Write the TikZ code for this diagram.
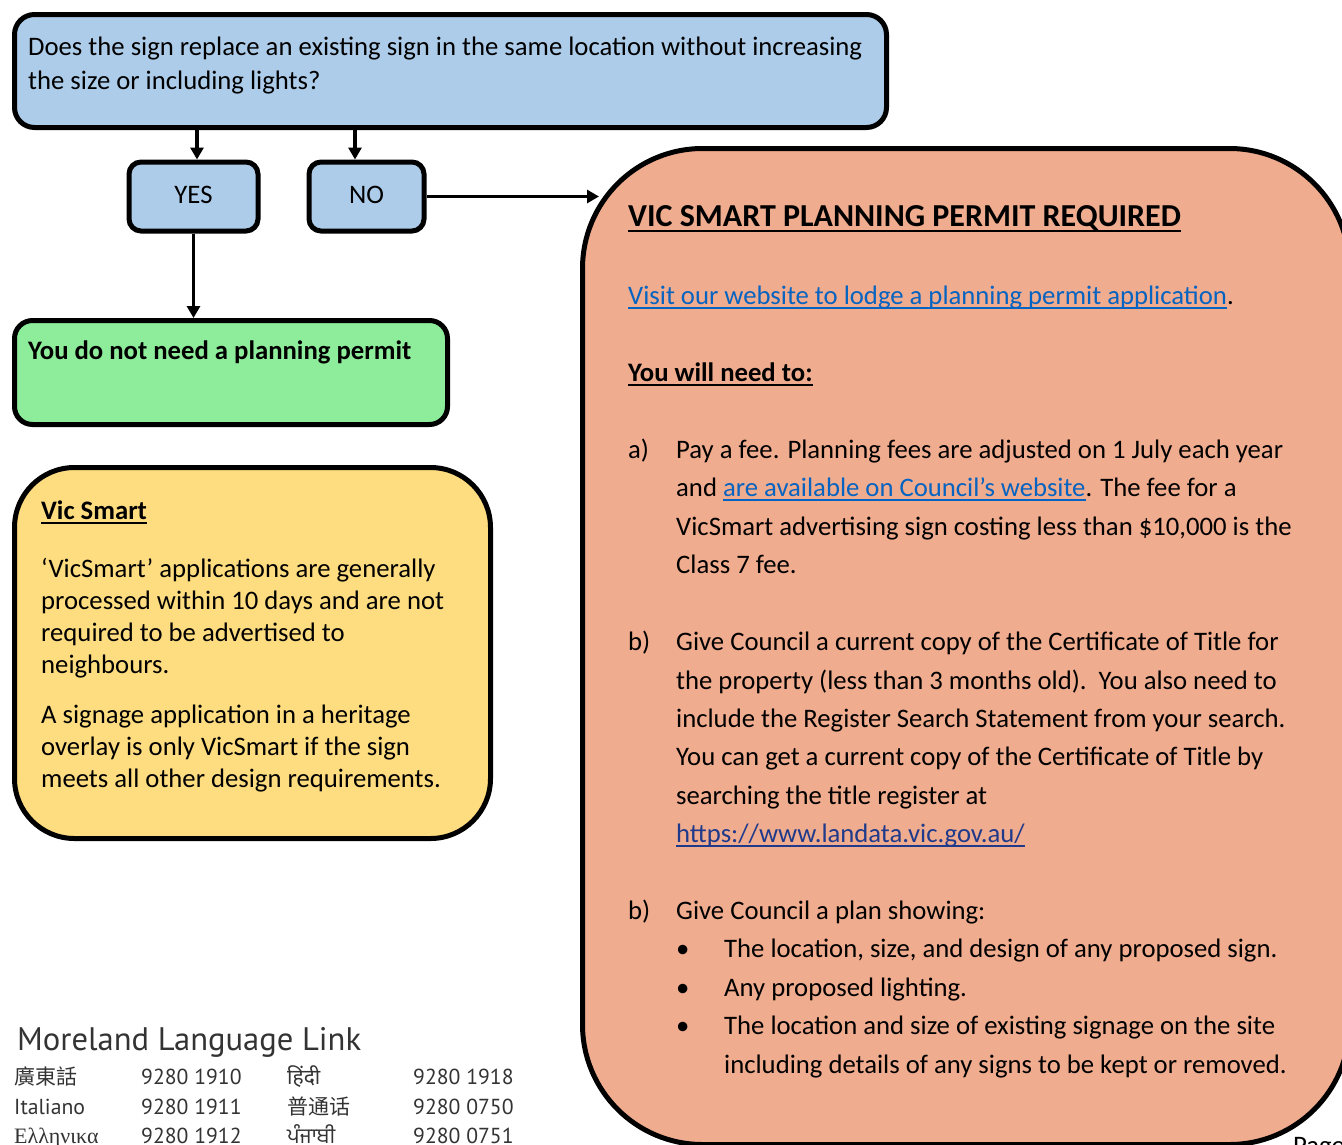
\documentclass[tikz,border=0pt]{standalone}
\usepackage{fontspec}
\setmainfont{Carlito}
\newfontfamily\llfont{PT Sans}
\newfontfamily\tcfont{Noto Sans CJK TC}
\newfontfamily\scfont{Noto Sans CJK SC}
\newfontfamily\hifont[Script=Devanagari]{Noto Sans}
\newfontfamily\pafont[Script=Gurmukhi]{Hind Jalandhar}
\newfontfamily\grfont{Liberation Serif}
\usetikzlibrary{arrows.meta}
\definecolor{qblue}{HTML}{ADCCEA}
\definecolor{okgreen}{HTML}{8DED9A}
\definecolor{infoyellow}{HTML}{FEDC80}
\definecolor{permitorange}{HTML}{F0AC8E}
\definecolor{linkblue}{HTML}{0563C1}
\definecolor{urlnavy}{HTML}{1F3A8A}
\definecolor{llgray}{HTML}{333333}
\newcommand\ulin[2][5pt]{\setbox0=\hbox{#2}\rlap{\rule[-#1]{\wd0}{2pt}}\box0}
\tikzset{
  boxbase/.style={draw=black, line width=5pt, anchor=north west, inner sep=0pt},
  qbox/.style={boxbase, fill=qblue, rounded corners=20pt},
  ansbox/.style={boxbase, fill=qblue, rounded corners=12pt, anchor=center},
  txt/.style={anchor=base west, inner sep=0pt, font=\fontsize{26.7}{30}\selectfont},
  btxt/.style={txt, font=\bfseries\fontsize{26.7}{30}\selectfont},
  lltxt/.style={anchor=base west, inner sep=0pt, text=llgray, font=\llfont\fontsize{21.7}{26}\selectfont},
  arr/.style={line width=3.5pt, -{Triangle[length=12pt,width=13pt]}},
}
\begin{document}
\begin{tikzpicture}[x=1pt,y=-1pt]
\useasboundingbox (0,0) rectangle (1342,1144);
\clip (0,0) rectangle (1342,1144);

% boxes
\node[qbox, minimum width=872pt, minimum height=113pt] (q) at (12,12) {};
\node[ansbox, minimum width=129pt, minimum height=69pt] (yes) at (193.5,196.5) {};
\node[ansbox, minimum width=115pt, minimum height=69pt] (no) at (366.5,196.5) {};
\node[boxbase, fill=okgreen, rounded corners=18pt, minimum width=433pt, minimum height=104pt] (ok) at (12,318) {};
\node[boxbase, fill=infoyellow, rounded corners=60pt, minimum width=476pt, minimum height=371pt] (vs) at (12,465) {};
\node[boxbase, fill=permitorange, rounded corners=120pt, minimum width=767pt, minimum height=996pt] (pr) at (580,146) {};

% labels in answer boxes
\node[font=\fontsize{26.7}{30}\selectfont, inner sep=0pt, anchor=base] (yest) at (193.5,203) {YES};
\node[font=\fontsize{26.7}{30}\selectfont, inner sep=0pt, anchor=base] (not) at (366.5,203) {NO};

% connectors
\coordinate (cy) at (197,0);
\coordinate (cn) at (355,0);
\coordinate (ce) at (599,0);
\draw[arr] (q.south -| cy) -- (yes.north -| cy);
\draw[arr] (q.south -| cn) -- (no.north -| cn);
\draw[arr] (yes.south) -- (yes.south |- ok.north);
\draw[arr] (no.east) -- (no.east -| ce);

% question text
\node[txt] (q1) at (28,55) {Does the sign replace an existing sign in the same location without increasing};
\node[txt] (q2) at (28,89) {the size or including lights?};

% green
\node[btxt] (okt) at (28,359) {You do not need a planning permit};

% yellow
\node[btxt] (vst) at (41,519) {\ulin[4.5pt]{Vic Smart}};
\node[txt] (vs1) at (41,577) {‘VicSmart’ applications are generally};
\node[txt] (vs2) at (41,609) {processed within 10 days and are not};
\node[txt] (vs3) at (41,641) {required to be advertised to};
\node[txt] (vs4) at (41,673) {neighbours.};
\node[txt] (vs5) at (41,723) {A signage application in a heritage};
\node[txt] (vs6) at (41,755) {overlay is only VicSmart if the sign};
\node[txt] (vs7) at (41,787) {meets all other design requirements.};

% orange
\node[txt, font=\bfseries\fontsize{32}{36}\selectfont] (prt) at (628,226) {\ulin[5.5pt]{VIC SMART PLANNING PERMIT REQUIRED}};
\node[txt] (web) at (628,304) {\textcolor{linkblue}{\ulin{Visit our website to lodge a planning permit application}}.};
\node[btxt] (need) at (628,381) {\ulin{You will need to:}};

\node[txt] (la) at (628,458) {a)};
\node[txt] (a1) at (676,458) {Pay a fee. Planning fees are adjusted on 1 July each year};
\node[txt] (a2) at (676,496) {and \textcolor{linkblue}{\ulin{are available on Council’s website}}. The fee for a};
\node[txt] (a3) at (676,535) {VicSmart advertising sign costing less than \$10,000 is the};
\node[txt] (a4) at (676,573) {Class 7 fee.};

\node[txt] (lb) at (628,650) {b)};
\node[txt] (b1) at (676,650) {Give Council a current copy of the Certificate of Title for};
\node[txt] (b2) at (676,689) {the property (less than 3 months old).\ \ You also need to};
\node[txt] (b3) at (676,727) {include the Register Search Statement from your search.};
\node[txt] (b4) at (676,765) {You can get a current copy of the Certificate of Title by};
\node[txt] (b5) at (676,804) {searching the title register at};
\node[txt] (b6) at (676,842) {\textcolor{urlnavy}{\ulin{https://www.landata.vic.gov.au/}}};

\node[txt] (lc) at (628,919) {b)};
\node[txt] (c1) at (676,919) {Give Council a plan showing:};
\node[txt] (d1) at (676,957) {\textbullet};
\node[txt] (c2) at (724,957) {The location, size, and design of any proposed sign.};
\node[txt] (d2) at (676,996) {\textbullet};
\node[txt] (c3) at (724,996) {Any proposed lighting.};
\node[txt] (d3) at (676,1034) {\textbullet};
\node[txt] (c4) at (724,1034) {The location and size of existing signage on the site};
\node[txt] (c5) at (724,1073) {including details of any signs to be kept or removed.};

\node[txt] (page) at (1293,1154) {Page};

% language link
\node[anchor=base west, inner sep=0pt, text=llgray, font=\llfont\fontsize{32.6}{36}\selectfont] (ll) at (17,1050) {Moreland Language Link};
\node[lltxt, font=\tcfont\fontsize{21}{26}\selectfont] (l1) at (14,1084) {廣東話};
\node[lltxt] (n1) at (141,1084) {9280 1910};
\node[lltxt, font=\hifont\fontsize{21}{26}\selectfont] (l2) at (287,1084) {हिंदी};
\node[lltxt] (n2) at (413,1084) {9280 1918};
\node[lltxt] (l3) at (14,1114) {Italiano};
\node[lltxt] (n3) at (141,1114) {9280 1911};
\node[lltxt, font=\scfont\fontsize{21}{26}\selectfont] (l4) at (287,1114) {普通话};
\node[lltxt] (n4) at (413,1114) {9280 0750};
\node[lltxt, font=\grfont\fontsize{22}{26}\selectfont] (l5) at (14,1143) {Ελληνικα};
\node[lltxt] (n5) at (141,1143) {9280 1912};
\node[lltxt, font=\pafont\fontsize{21}{26}\selectfont] (l6) at (287,1143) {ਪੰਜਾਬੀ};
\node[lltxt] (n6) at (413,1143) {9280 0751};
\end{tikzpicture}
\end{document}
